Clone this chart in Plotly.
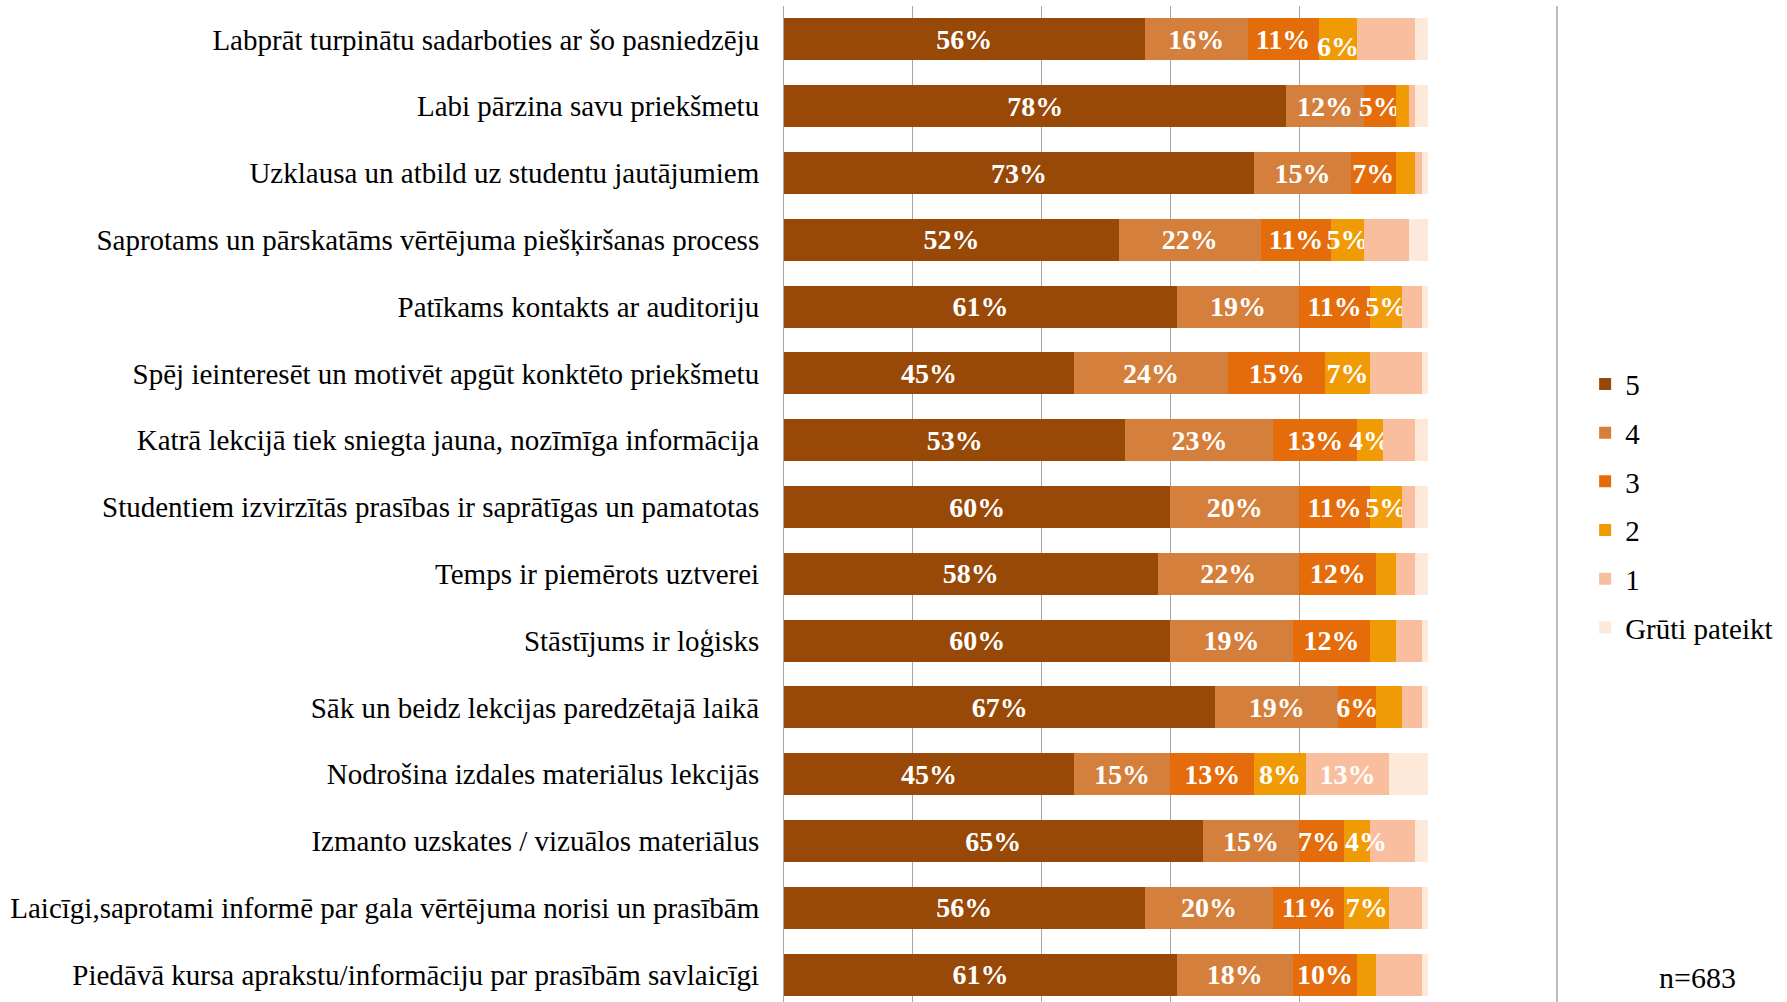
import plotly.graph_objects as go

categories = [
    "Labprāt turpinātu sadarboties ar šo pasniedzēju",
    "Labi pārzina savu priekšmetu",
    "Uzklausa un atbild uz studentu jautājumiem",
    "Saprotams un pārskatāms vērtējuma piešķiršanas process",
    "Patīkams kontakts ar auditoriju",
    "Spēj ieinteresēt un motivēt apgūt konktēto priekšmetu",
    "Katrā lekcijā tiek sniegta jauna, nozīmīga informācija",
    "Studentiem izvirzītās prasības ir saprātīgas un pamatotas",
    "Temps ir piemērots uztverei",
    "Stāstījums ir loģisks",
    "Sāk un beidz lekcijas paredzētajā laikā",
    "Nodrošina izdales materiālus lekcijās",
    "Izmanto uzskates / vizuālos materiālus",
    "Laicīgi,saprotami informē par gala vērtējuma norisi un prasībām",
    "Piedāvā kursa aprakstu/informāciju par prasībām savlaicīgi",
]

series_names = ["5", "4", "3", "2", "1", "Grūti pateikt"]
v5 = [56, 78, 73, 52, 61, 45, 53, 60, 58, 60, 67, 45, 65, 56, 61]
v4 = [16, 12, 15, 22, 19, 24, 23, 20, 22, 19, 19, 15, 15, 20, 18]
v3 = [11, 5, 7, 11, 11, 15, 13, 11, 12, 12, 6, 13, 7, 11, 10]
v2 = [6, 2, 3, 5, 5, 7, 4, 5, 3, 4, 4, 8, 4, 7, 3]
v1 = [9, 1, 1, 7, 3, 8, 5, 2, 3, 4, 3, 13, 7, 5, 7]
vg = [2, 2, 1, 3, 1, 1, 2, 2, 2, 1, 1, 6, 2, 1, 1]

# which data labels are displayed in the original
show5 = [True] * 15
show4 = [True] * 15
show3 = [True] * 15
show2 = [True, False, False, True, True, True, True, True, False, False, False, True, True, True, False]
show1 = [False] * 11 + [True] + [False] * 3
showg = [False] * 15

colors = ["#984807", "#D47F3B", "#E46C0A", "#F09B05", "#F8BE9E", "#FDE9DA"]

values = [v5, v4, v3, v2, v1, vg]
shows = [show5, show4, show3, show2, show1, showg]

SERIF = "Liberation Serif, Times New Roman, serif"
LABEL_FONT = dict(family=SERIF, size=28, color="white", weight="bold")

# (series index, row index) -> (x shift px, y shift px) for labels that
# the original places off-centre to avoid collisions
label_nudge = {(2, 12): (-3, 0), (3, 12): (9, 0), (3, 0): (0, -7)}

fig = go.Figure()
annotations = []
cum = [0] * len(categories)
for si, (name, vals, shw, col) in enumerate(zip(series_names, values, shows, colors)):
    texts = []
    for ri, (v, s) in enumerate(zip(vals, shw)):
        t = f"{v}%" if s else ""
        if t and (si, ri) in label_nudge:
            dx, dy = label_nudge[(si, ri)]
            annotations.append(dict(
                text=t, x=cum[ri] + v / 2, y=categories[ri], xref="x", yref="y",
                xshift=dx, yshift=dy, showarrow=False, font=LABEL_FONT,
                xanchor="center", yanchor="middle"))
            t = ""
        texts.append(t)
    fig.add_trace(go.Bar(
        y=categories,
        x=vals,
        name=name,
        orientation="h",
        marker=dict(color=col, line=dict(width=0)),
        text=texts,
        textposition="inside",
        insidetextanchor="middle",
        textangle=0,
        constraintext="none",
        insidetextfont=LABEL_FONT,
        legendgroup=name,
        hoverinfo="skip",
        cliponaxis=False,
    ))
    cum = [c + v for c, v in zip(cum, vals)]

annotations.append(dict(
    text="n=683", xref="paper", yref="paper",
    x=1.419, y=0.025, xanchor="center", yanchor="middle",
    showarrow=False, font=dict(family=SERIF, size=30, color="black")))

fig.update_layout(
    width=1787,
    height=1002,
    barmode="stack",
    bargap=0.37,
    plot_bgcolor="white",
    paper_bgcolor="white",
    margin=dict(l=784, r=359, t=6, b=0, autoexpand=False),
    font=dict(family=SERIF, size=29, color="black"),
    xaxis=dict(
        range=[0, 100],
        dtick=20,
        tick0=0,
        showticklabels=False,
        showgrid=True,
        gridcolor="#A6A6A6",
        gridwidth=1,
        zeroline=False,
        showline=False,
        fixedrange=True,
    ),
    yaxis=dict(
        type="category",
        range=[14.41, -0.5],
        showgrid=False,
        showline=True,
        linecolor="#A6A6A6",
        linewidth=1,
        ticks="",
        ticklabelstandoff=18,
        tickfont=dict(family=SERIF, size=29, color="black"),
        fixedrange=True,
    ),
    legend=dict(
        x=1.244,
        xanchor="left",
        y=0.646,
        yanchor="top",
        font=dict(family=SERIF, size=29, color="black"),
        tracegroupgap=8,
        traceorder="grouped",
        itemwidth=30,
        bgcolor="rgba(0,0,0,0)",
    ),
    showlegend=True,
    shapes=[
        dict(type="line", xref="paper", yref="paper",
             x0=1.2003, x1=1.2003, y0=0, y1=1,
             line=dict(color="#A6A6A6", width=1.5)),
    ],
    annotations=annotations,
)

fig.write_html("out.html")
